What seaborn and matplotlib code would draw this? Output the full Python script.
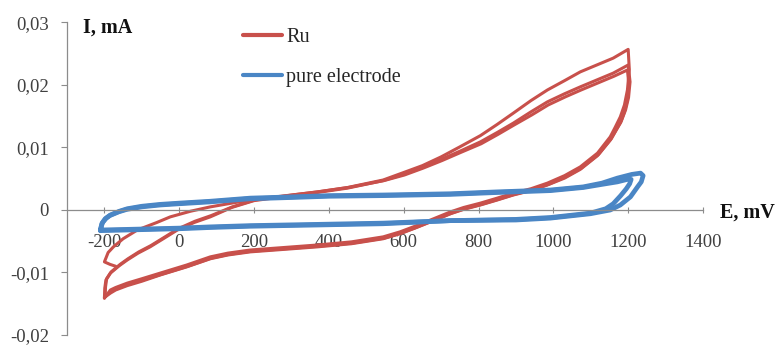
import matplotlib
matplotlib.use("Agg")
import matplotlib.pyplot as plt
import seaborn as sns
import pandas as pd

# ---------------- data ----------------
# Ru electrode, three CV cycles (E in mV, I in mA)
ru_c1_E = [-170, -185, -200, -190, -176, -150, -112, -60, -24, 30, 83, 150, 200, 300, 369, 450, 545, 600, 650,
           700, 750, 805, 850, 893, 940, 984, 1030, 1072, 1120, 1160, 1200,
           1203, 1198, 1190, 1179, 1165, 1152, 1118, 1072, 1030, 984, 940, 893, 850, 805, 760, 725, 680, 630,
           590, 545, 460, 369, 280, 190, 130, 83, 20, -51, -100, -139, -170, -184, -200]
ru_c1_I = [-0.0090, -0.0087, -0.0083, -0.0068, -0.0059, -0.0046, -0.0032, -0.0020, -0.0011, -0.0002, 0.0005,
           0.0012, 0.0017, 0.0024, 0.0029, 0.0036, 0.0048, 0.0060, 0.0071, 0.0085, 0.0101, 0.0119, 0.0137,
           0.0155, 0.0175, 0.0192, 0.0207, 0.0221, 0.0233, 0.0243, 0.0257,
           0.0225, 0.0192, 0.0168, 0.0149, 0.0132, 0.0117, 0.0091, 0.0069, 0.0055, 0.0043, 0.0034, 0.0027,
           0.0019, 0.0011, 0.0004, -0.0003, -0.0014, -0.0026, -0.0035, -0.0043, -0.0051, -0.0056, -0.0060,
           -0.0064, -0.0069, -0.0075, -0.0088, -0.0101, -0.0110, -0.0117, -0.0124, -0.0128, -0.0141]

ru_c2_E = [-200, -199, -196, -184, -160, -139, -110, -78, -40, -5, 40, 83, 140, 200, 300, 369, 450, 545, 600,
           650, 700, 750, 805, 850, 893, 940, 984, 1030, 1072, 1120, 1160, 1200,
           1205, 1201, 1193, 1182, 1168, 1155, 1121, 1075, 1033, 987, 943, 896, 853, 808, 763, 728, 683, 633,
           593, 548, 463, 372, 283, 193, 133, 86, 23, -48, -97, -136, -167, -181, -198]
ru_c2_I = [-0.0141, -0.0125, -0.0112, -0.0101, -0.0089, -0.0080, -0.0069, -0.0059, -0.0045, -0.0032, -0.0020,
           -0.0011, 0.0004, 0.0015, 0.0023, 0.0028, 0.0035, 0.0047, 0.0057, 0.0068, 0.0081, 0.0094, 0.0109,
           0.0124, 0.0139, 0.0157, 0.0173, 0.0186, 0.0197, 0.0209, 0.0219, 0.0232,
           0.0205, 0.0180, 0.0160, 0.0143, 0.0128, 0.0114, 0.0089, 0.0067, 0.0053, 0.0041, 0.0032, 0.0025,
           0.0017, 0.0009, 0.0002, -0.0005, -0.0016, -0.0028, -0.0037, -0.0045, -0.0053, -0.0058, -0.0062,
           -0.0066, -0.0071, -0.0077, -0.0090, -0.0103, -0.0112, -0.0119, -0.0126, -0.0130, -0.0138]

ru_c3_E = [-198, -197, -194, -182, -158, -137, -108, -76, -38, -3, 42, 85, 142, 202, 302, 371, 452, 547, 602,
           652, 702, 752, 807, 852, 895, 942, 986, 1032, 1074, 1122, 1162, 1198,
           1202, 1198, 1190, 1180, 1166, 1152, 1118, 1072, 1030, 984, 940, 893, 850, 805, 760, 725, 680, 630,
           590, 545, 460, 369, 280, 190, 130, 83, 20, -51, -100, -139, -170, -184, -200]
ru_c3_I = [-0.0138, -0.0123, -0.0110, -0.0099, -0.0087, -0.0078, -0.0067, -0.0057, -0.0043, -0.0030, -0.0018,
           -0.0009, 0.0005, 0.0016, 0.0024, 0.0029, 0.0036, 0.0047, 0.0056, 0.0067, 0.0079, 0.0092, 0.0106,
           0.0121, 0.0136, 0.0152, 0.0168, 0.0181, 0.0192, 0.0204, 0.0214, 0.0224,
           0.0200, 0.0176, 0.0157, 0.0140, 0.0126, 0.0112, 0.0087, 0.0065, 0.0051, 0.0040, 0.0031, 0.0024,
           0.0016, 0.0008, 0.0001, -0.0006, -0.0017, -0.0029, -0.0038, -0.0046, -0.0054, -0.0059, -0.0063,
           -0.0067, -0.0072, -0.0078, -0.0091, -0.0104, -0.0114, -0.0121, -0.0128, -0.0133, -0.0140]

# pure electrode, two CV cycles
pe_c1_E = [-211, -205, -195, -184, -160, -139, -100, -51, 0, 83, 190, 300, 400, 545, 725, 850, 992, 1080,
           1130, 1171, 1210, 1233, 1240, 1235, 1225, 1206, 1179, 1152, 1099, 992, 900, 725, 545, 369, 190,
           83, 0, -139, -211]
pe_c1_I = [-0.0032, -0.0020, -0.0013, -0.0008, -0.0002, 0.0002, 0.0006, 0.0009, 0.0011, 0.0014, 0.0019,
           0.0021, 0.0023, 0.0024, 0.0026, 0.0029, 0.0032, 0.0037, 0.0043, 0.0051, 0.0057, 0.0059, 0.0055,
           0.0045, 0.0037, 0.0021, 0.0008, 0.0000, -0.0006, -0.0013, -0.0016, -0.0017, -0.0022, -0.0024,
           -0.0026, -0.0028, -0.0030, -0.0032, -0.0033]

pe_c2_E = [-211, -207, -198, -186, -162, -140, -100, -51, 0, 83, 190, 300, 400, 545, 725, 850, 992, 1080,
           1130, 1171, 1198, 1208, 1204, 1195, 1180, 1160, 1140, 1099, 992, 900, 725, 545, 369, 190, 83, 0,
           -139, -211]
pe_c2_I = [-0.0033, -0.0022, -0.0014, -0.0009, -0.0003, 0.0001, 0.0005, 0.0008, 0.0010, 0.0013, 0.0018,
           0.0020, 0.0022, 0.0023, 0.0025, 0.0028, 0.0031, 0.0036, 0.0041, 0.0045, 0.0049, 0.0049, 0.0042,
           0.0034, 0.0023, 0.0010, 0.0002, -0.0005, -0.0012, -0.0015, -0.0017, -0.0021, -0.0023, -0.0025,
           -0.0027, -0.0029, -0.0031, -0.0032]

x_ticks = [-200, 0, 200, 400, 600, 800, 1000, 1200, 1400]
y_ticks = [-0.02, -0.01, 0, 0.01, 0.02, 0.03]
y_tick_labels = ["-0,02", "-0,01", "0", "0,01", "0,02", "0,03"]
series_names = ["Ru", "pure electrode"]

# ---------------- build table ----------------
def frame(E, I, name, cyc):
    return pd.DataFrame({"E": E, "I": I, "series": name, "cycle": cyc})

ru_df = pd.concat([frame(ru_c1_E, ru_c1_I, series_names[0], 1),
                   frame(ru_c2_E, ru_c2_I, series_names[0], 2),
                   frame(ru_c3_E, ru_c3_I, series_names[0], 3)], ignore_index=True)
pe_df = pd.concat([frame(pe_c1_E, pe_c1_I, series_names[1], 1),
                   frame(pe_c2_E, pe_c2_I, series_names[1], 2)], ignore_index=True)

# ---------------- plot ----------------
sns.set_theme(style="white")
plt.rcParams["font.family"] = ["Liberation Serif", "DejaVu Serif"]

W, H = 777, 347
fig = plt.figure(figsize=(W / 100, H / 100), dpi=100)
ax_left, ax_right, ax_top, ax_bot = 67, 703, 22.5, 335
ax = fig.add_axes([ax_left / W, 1 - ax_bot / H, (ax_right - ax_left) / W, (ax_bot - ax_top) / H])

red = "#C8504B"
blue = "#4A86C5"

sns.lineplot(data=ru_df, x="E", y="I", units="cycle", estimator=None, sort=False,
             color=red, lw=2.2, ax=ax, label=series_names[0])
sns.lineplot(data=pe_df, x="E", y="I", units="cycle", estimator=None, sort=False,
             color=blue, lw=3.4, ax=ax, label=series_names[1])

ax.set_xlim(-300, 1400)
ax.set_ylim(-0.02, 0.03)
ax.set_xlabel("")
ax.set_ylabel("")

for s in ["top", "right"]:
    ax.spines[s].set_visible(False)
ax.spines["bottom"].set_position(("data", 0))
for s in ["left", "bottom"]:
    ax.spines[s].set_color("#8C8C8C")
    ax.spines[s].set_linewidth(0.9)

ax.set_xticks(x_ticks)
ax.set_xticklabels([str(v) for v in x_ticks])
ax.set_yticks(y_ticks)
ax.set_yticklabels(y_tick_labels)
ax.tick_params(axis="x", direction="inout", length=5, width=0.8, color="#8C8C8C",
               labelsize=13.5, labelcolor="#404040", pad=14.5, bottom=True)
ax.tick_params(axis="y", direction="out", length=4, width=0.8, color="#8C8C8C",
               labelsize=13.5, labelcolor="#404040", pad=9, left=True)
ax.grid(False)

fig.text(83 / W, 1 - 28 / H, "I, mA", fontsize=14.5, fontweight="bold", ha="left", va="center",
         color="#111111")
fig.text(720 / W, 1 - 213 / H, "E, mV", fontsize=14.5, fontweight="bold", ha="left", va="center",
         color="#111111")

handles, labels = ax.get_legend_handles_labels()
uniq = {}
for h, l in zip(handles, labels):
    if l not in uniq:
        uniq[l] = h
leg = ax.legend(list(uniq.values()), list(uniq.keys()), loc="upper left",
                bbox_to_anchor=(243 / W, 1 - 28 / H), bbox_transform=fig.transFigure,
                frameon=False, fontsize=14.5, handlelength=1.95, handletextpad=0.2,
                labelspacing=1.05, borderpad=0, borderaxespad=0)
for line in leg.get_lines():
    line.set_linewidth(3.0)

fig.savefig("out.png", dpi=100)
